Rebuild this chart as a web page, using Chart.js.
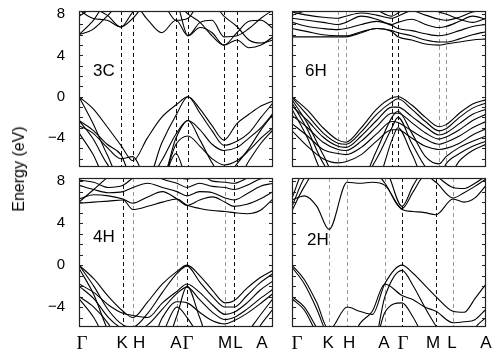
<!DOCTYPE html>
<html>
<head>
<meta charset="utf-8">
<script src="https://cdn.jsdelivr.net/npm/chart.js@4/dist/chart.umd.min.js"></script>
<style>
  body { margin: 0; background: #fff; }
  #wrap { position: relative; width: 498px; height: 354px; overflow: hidden; }
  canvas { position: absolute; }
  #ylab { position: absolute; left: 19px; top: 169px; transform: translate(-50%, -50%) rotate(-90deg);
          font: 16px "Liberation Sans", Arial, sans-serif; white-space: nowrap; color: #000; }
</style>
</head>
<body>
<div id="wrap">
  <canvas id="c3C" width="280" height="172" style="left:0;top:0"></canvas>
  <canvas id="c6H" width="218" height="172" style="left:280px;top:0"></canvas>
  <canvas id="c4H" width="280" height="182" style="left:0;top:172px"></canvas>
  <canvas id="c2H" width="218" height="182" style="left:280px;top:172px"></canvas>
  <div id="ylab">Energy (eV)</div>
</div>
<script>
// path labels along the bottom axis
var kLabels = ["Γ", "K", "H", "A", "Γ", "M", "L", "A"];
// where those labels sit under the bottom panels (fraction of path)
var labPos4H = [0.015, 0.222, 0.31, 0.5, 0.562, 0.753, 0.82, 0.943];
var labPos2H = [0.026, 0.186, 0.294, 0.474, 0.572, 0.727, 0.825, 1];

// symmetry point positions (fraction of path) per polytype
var sym3C = [0, 0.216, 0.278, 0.5, 0.562, 0.747, 0.814, 1];
var sym6H = [0, 0.237, 0.278, 0.515, 0.546, 0.758, 0.794, 1];
var sym4H = [0, 0.227, 0.278, 0.505, 0.557, 0.753, 0.799, 1];
var sym2H = [0, 0.191, 0.284, 0.479, 0.567, 0.742, 0.830, 1];

// which dashed lines are dark (1) or grey (0)
var dark3C = [0, 1, 1, 1, 1, 1, 1, 0];
var dark6H = [0, 0, 0, 1, 1, 0, 0, 0];
var dark4H = [0, 1, 0, 0, 1, 0, 1, 0];
var dark2H = [0, 0, 0, 0, 1, 1, 0, 0];

// k sampling per panel
var k3C = [0, 0.07, 0.145, 0.216, 0.278, 0.352, 0.426, 0.5, 0.562, 0.624, 0.686, 0.747, 0.814, 0.876, 0.938, 1];
var k6H = [0, 0.08, 0.16, 0.237, 0.278, 0.357, 0.436, 0.515, 0.546, 0.617, 0.688, 0.758, 0.794, 0.863, 0.931, 1];
var k4H = [0, 0.076, 0.152, 0.227, 0.278, 0.354, 0.43, 0.505, 0.557, 0.622, 0.688, 0.753, 0.799, 0.866, 0.933, 1];
var k2H = [0, 0.064, 0.128, 0.191, 0.284, 0.349, 0.414, 0.479, 0.567, 0.625, 0.684, 0.742, 0.830, 0.887, 0.943, 1];

// bands (eV)
var bands3C = [
  [0, -1.1, -2.9, -4.7, -6.2, -4.0, -2.0, -0.8, 0, -1.2, -2.8, -4.2, -2.6, -1.7, -0.9, -0.4],
  [0, -2.5, -5.6, -8, -8, -8, -4.5, -1.8, 0, -1.6, -3.3, -4.7, -4.3, -3.5, -2.0, -0.6],
  [-2.3, -3.2, -4.6, -5.6, -8, -8, -6.2, -3.6, -2.3, -3.2, -4.6, -5.2, -4.9, -4.0, -3.0, -1.6],
  [-2.3, -4.0, -6.5, -8, -8, -8, -8, -4.0, -2.3, -4.2, -6.4, -8, -6.5, -5.0, -3.2, -1.7],
  [-2.8, -3.5, -4.9, -6.0, -5.8, -8, -8, -4.6, -3.8, -4.8, -6.0, -6.6, -6.2, -5.2, -4.0, -3.0],
  [-3.5, -5.5, -8, -8, -8, -8, -8, -5.5, -8, -8, -8, -8, -8, -6.2, -4.5, -3.2],
  [6.0, 7.3, 9, 9, 9, 9, 9, 9, 5.9, 6.7, 6.2, 5.0, 5.5, 4.75, 5.0, 5.8],
  [6.0, 6.5, 7.8, 9, 9, 7.5, 6.2, 7.4, 5.9, 7.2, 7.4, 5.8, 5.9, 6.6, 7.6, 8.4],
  [8.4, 7.6, 7.4, 6.75, 8.2, 9, 9, 9, 8.0, 7.2, 5.9, 5.0, 6.2, 7.3, 7.4, 6.6],
  [7.8, 8.5, 7.9, 6.75, 7.6, 9, 9, 7.4, 7.6, 9, 9, 7.8, 6.8, 5.5, 5.2, 5.5]
];
var bands6H = [
  [0, -1.3, -3.0, -4.2, -4.4, -3.0, -1.2, -0.1, 0, -0.8, -2.0, -2.9, -2.7, -1.6, -0.7, -0.3],
  [-0.1, -1.8, -3.5, -4.5, -4.6, -3.4, -1.7, -0.5, -0.2, -1.2, -2.4, -3.3, -3.1, -2.0, -1.1, -0.6],
  [-0.9, -2.3, -3.9, -4.8, -4.9, -3.8, -2.3, -1.0, -1.0, -1.9, -2.9, -3.7, -3.5, -2.6, -1.7, -1.2],
  [-1.8, -3.0, -4.4, -5.1, -5.2, -4.3, -2.9, -1.6, -1.6, -2.5, -3.5, -4.1, -3.9, -3.2, -2.3, -1.7],
  [-2.6, -3.8, -5.1, -5.5, -5.6, -4.9, -3.6, -2.4, -2.5, -3.3, -4.1, -4.6, -4.4, -3.8, -3.0, -2.4],
  [-3.3, -4.8, -6.0, -6.4, -6.3, -5.6, -4.3, -3.2, -3.2, -4.0, -4.8, -5.1, -5.0, -4.5, -3.7, -3.1],
  [-0.3, -2.6, -5.6, -8, -8, -8, -5.2, -2.0, -1.4, -3.5, -5.8, -6.5, -5.8, -4.9, -4.3, -3.8],
  [-0.6, -3.2, -6.4, -8, -8, -8, -6.0, -3.0, -2.0, -4.5, -6.8, -8, -6.5, -5.5, -4.8, -4.3],
  [-1.2, -4.0, -7.5, -8, -8, -8, -8, -4.2, -3.0, -5.5, -8, -8, -8, -6.2, -5.2, -4.6],
  [5.8, 5.8, 5.8, 5.8, 5.8, 6.2, 6.6, 6.3, 5.8, 5.5, 5.1, 5.0, 5.1, 5.3, 5.5, 5.6],
  [6.6, 6.3, 6.0, 5.9, 5.9, 6.3, 6.6, 6.4, 6.2, 5.9, 5.5, 5.3, 5.3, 5.6, 6.0, 6.3],
  [7.2, 6.8, 6.6, 6.5, 6.6, 7.0, 7.3, 6.9, 6.6, 6.4, 6.1, 5.9, 6.0, 6.4, 6.8, 7.0],
  [7.6, 7.4, 7.2, 7.0, 7.2, 7.8, 7.5, 7.0, 7.2, 7.5, 7.0, 6.7, 6.8, 7.3, 7.8, 7.5],
  [8.2, 7.9, 7.7, 7.6, 7.8, 8.1, 7.9, 7.6, 7.8, 8.3, 7.9, 7.5, 7.4, 7.7, 8.2, 8.4],
  [7.9, 8.4, 9, 9, 9, 9, 8.4, 7.8, 8.1, 9, 9, 8.2, 8.0, 7.5, 7.2, 7.6]
];
var bands4H = [
  [0, -1.3, -3.0, -4.4, -5.0, -3.5, -1.8, -0.6, 0, -1.0, -2.4, -3.6, -3.4, -2.2, -1.2, -0.5],
  [0, -2.0, -4.3, -5.7, -5.9, -4.6, -2.6, -0.8, -0.1, -1.6, -3.0, -4.0, -4.0, -2.9, -1.7, -0.8],
  [-1.8, -2.6, -3.8, -4.6, -4.8, -5.0, -3.6, -2.5, -1.8, -2.6, -3.8, -4.7, -4.5, -3.6, -2.4, -1.5],
  [-2.0, -3.2, -5.0, -6.1, -6.3, -5.7, -4.2, -2.7, -2.1, -3.3, -4.5, -5.2, -5.0, -4.2, -3.2, -2.3],
  [-3.0, -4.0, -5.6, -8, -8, -8, -5.0, -3.5, -3.6, -4.5, -5.3, -5.6, -5.3, -4.6, -3.7, -2.7],
  [-3.2, -5.0, -7.5, -8, -8, -8, -6.5, -4.0, -5.0, -6.8, -8, -8, -8, -6.5, -4.8, -3.2],
  [-0.3, -2.8, -6.3, -8, -8, -8, -8, -4.8, -2.0, -5.0, -8, -8, -8, -8, -5.8, -4.2],
  [5.9, 6.0, 6.1, 6.2, 5.3, 5.6, 6.0, 6.3, 5.7, 5.4, 5.2, 5.1, 5.0, 4.9, 5.2, 6.3],
  [6.3, 6.7, 6.6, 6.3, 5.9, 6.5, 7.0, 6.3, 5.7, 6.2, 6.5, 6.0, 5.6, 5.8, 6.3, 7.0],
  [7.6, 7.2, 6.9, 7.0, 7.4, 7.8, 7.4, 7.0, 6.6, 7.0, 6.9, 6.4, 6.2, 6.8, 7.5, 7.8],
  [8.1, 7.9, 7.4, 7.6, 8.3, 9, 8.2, 7.8, 7.4, 7.8, 7.5, 7.4, 7.2, 7.6, 8.2, 8.4],
  [6.0, 7.2, 8.4, 9, 9, 9, 9, 8.4, 8.2, 8.6, 8.0, 7.9, 7.8, 8.3, 9, 9]
];
var bands2H = [
  [0, -1.4, -3.6, -6.2, -4.0, -4.4, -4.7, -1.75, 0, -0.8, -1.9, -3.0, -4.4, -4.5, -3.2, -1.8],
  [-0.2, -1.8, -4.2, -7, -8, -8, -8, -3.0, -0.5, -2.0, -4.0, -5.8, -8, -8, -6.0, -5.0],
  [-3.0, -4.0, -6.0, -8, -8, -5.6, -4.4, -1.8, -2.9, -3.3, -4.0, -4.4, -5.5, -5.4, -5.2, -4.2],
  [-3.2, -4.3, -6.5, -8, -8, -8, -8, -4.5, -3.6, -5.0, -7.0, -8, -8, -8, -8, -6.0],
  [6.2, 6.6, 5.6, 3.4, 7.9, 7.8, 7.9, 7.6, 5.3, 5.1, 5.0, 4.8, 6.3, 6.0, 6.4, 7.6],
  [5.2, 7.5, 9, 9, 9, 9, 9, 7.8, 5.4, 7.0, 8.5, 7.9, 6.4, 6.9, 7.5, 8.2],
  [5.6, 8.3, 9, 9, 9, 9, 9, 9, 5.6, 7.6, 9, 9, 9, 9, 9, 9],
  [6.4, 9, 9, 9, 9, 9, 9, 9, 9, 9, 9, 8.5, 7.4, 7.3, 7.8, 8.5]
];

var yTicks = [-4, 0, 4, 8];

var panelDeco = {
  id: "panelDeco",
  beforeDatasetsDraw(chart, args, o) {
    var ctx = chart.ctx, a = chart.chartArea, x = chart.scales.x;
    ctx.save();
    ctx.lineWidth = 1;
    ctx.setLineDash([4, 3]);
    o.sym.forEach(function (k, i) {
      if (i === 0 || i === o.sym.length - 1) return;
      var px = Math.round(x.getPixelForValue(k)) + 0.5;
      ctx.strokeStyle = o.dark[i] ? "#111" : "#999";
      ctx.beginPath();
      ctx.moveTo(px, a.top);
      ctx.lineTo(px, a.bottom);
      ctx.stroke();
    });
    ctx.restore();
  },
  afterDatasetsDraw(chart, args, o) {
    var ctx = chart.ctx, a = chart.chartArea, x = chart.scales.x, y = chart.scales.y;
    ctx.save();
    ctx.strokeStyle = "#222";
    ctx.lineWidth = 1.2;
    ctx.strokeRect(a.left + 0.5, a.top + 0.5, a.right - a.left - 1, a.bottom - a.top - 1);
    ctx.lineWidth = 1;
    for (var e = Math.ceil(y.min); e <= Math.floor(y.max); e++) {
      var py = Math.round(y.getPixelForValue(e)) + 0.5;
      ctx.beginPath();
      ctx.moveTo(a.left, py); ctx.lineTo(a.left + 4, py);
      ctx.moveTo(a.right, py); ctx.lineTo(a.right - 4, py);
      ctx.stroke();
    }
    ctx.fillStyle = "#000";
    ctx.font = '17px "Liberation Sans", Arial, sans-serif';
    ctx.textBaseline = "middle";
    ctx.fillText(o.name, x.getPixelForValue(o.at[0]), y.getPixelForValue(o.at[1]));
    ctx.restore();
  }
};

function bandChart(id, name, kgrid, bands, sym, dark, opts) {
  var datasets = bands.map(function (b) {
    return {
      data: b.map(function (e, i) { return { x: kgrid[i], y: e }; }),
      borderColor: "#000",
      borderWidth: 1.1,
      pointRadius: 0,
      fill: false,
      cubicInterpolationMode: "monotone"
    };
  });
  var labPos = opts.labPos || sym;
  return new Chart(document.getElementById(id).getContext("2d"), {
    type: "line",
    data: { datasets: datasets },
    plugins: [panelDeco],
    options: {
      responsive: false,
      animation: false,
      events: [],
      layout: { padding: opts.padding },
      plugins: {
        legend: false,
        tooltip: { enabled: false },
        panelDeco: { name: name, sym: sym, dark: dark, at: opts.labelAt }
      },
      scales: {
        x: {
          type: "linear",
          min: 0,
          max: 1,
          display: opts.showX,
          grid: { display: false, drawTicks: false },
          border: { display: false },
          afterBuildTicks: function (s) {
            s.ticks = labPos.map(function (v) { return { value: v }; });
          },
          afterFit: function (s) {
            s.height = opts.showX ? 27 : 0;
            s.paddingLeft = 0; s.paddingRight = 0;
          },
          ticks: {
            autoSkip: false,
            maxRotation: 0,
            padding: 6,
            color: "#000",
            callback: function (v, i) { return kLabels[i]; },
            font: function (c) {
              var lab = c.tick ? kLabels[c.index] : "";
              return lab === "Γ"
                ? { family: '"Liberation Serif", serif', size: 19 }
                : { family: '"Liberation Sans", Arial, sans-serif', size: 17 };
            }
          }
        },
        y: {
          min: opts.ymin,
          max: opts.ymax,
          display: opts.showY,
          grid: { display: false, drawTicks: false },
          border: { display: false },
          afterBuildTicks: function (s) {
            s.ticks = yTicks.map(function (v) { return { value: v }; });
          },
          afterFit: function (s) {
            s.width = opts.showY ? 79 : 0;
            s.paddingTop = 0; s.paddingBottom = 0;
          },
          ticks: {
            padding: 14,
            color: "#000",
            font: { family: '"Liberation Sans", Arial, sans-serif', size: 15 },
            callback: function (v) { return v < 0 ? "\u2212" + Math.abs(v) : String(v); }
          }
        }
      }
    }
  });
}

bandChart("c3C", "3C", k3C, bands3C, sym3C, dark3C,
  { padding: { left: 0, top: 11, right: 7, bottom: 5 }, showX: false, showY: true, ymin: -6.8, ymax: 8.3, labelAt: [0.072, 2.5] });
bandChart("c6H", "6H", k6H, bands6H, sym6H, dark6H,
  { padding: { left: 12, top: 11, right: 12, bottom: 5 }, showX: false, showY: false, ymin: -6.8, ymax: 8.3, labelAt: [0.067, 2.5] });
bandChart("c4H", "4H", k4H, bands4H, sym4H, dark4H,
  { padding: { left: 0, top: 6, right: 7, bottom: 0 }, showX: true, showY: true, ymin: -5.9, ymax: 8.3, labelAt: [0.072, 2.6], labPos: labPos4H });
bandChart("c2H", "2H", k2H, bands2H, sym2H, dark2H,
  { padding: { left: 12, top: 6, right: 12, bottom: 0 }, showX: true, showY: false, ymin: -5.9, ymax: 8.3, labelAt: [0.077, 2.4], labPos: labPos2H });
</script>
</body>
</html>
